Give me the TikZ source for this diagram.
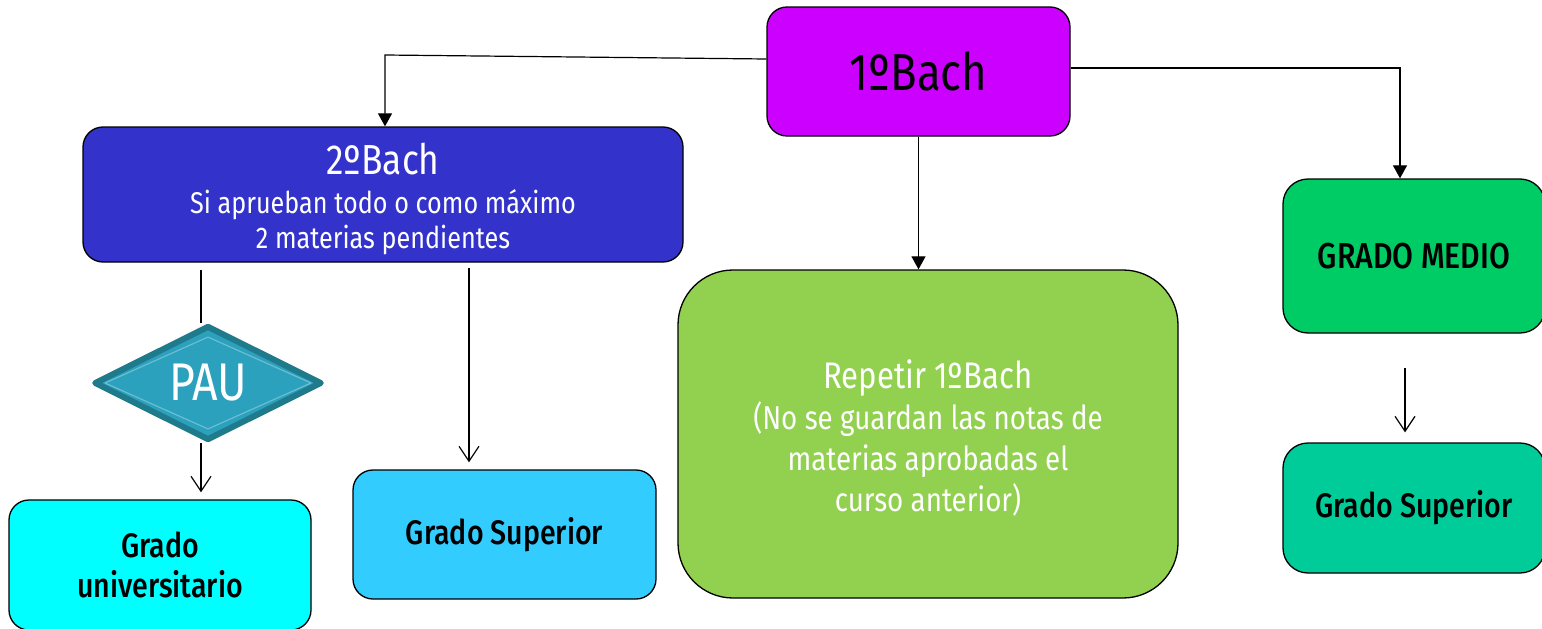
\documentclass[tikz,border=0pt]{standalone}
\usepackage{fontspec}
\setmainfont{Fira Sans}[FakeStretch=0.84, BoldFont={Fira Sans Medium}]
\usetikzlibrary{arrows.meta, shapes.geometric, calc}

\definecolor{bachone}{HTML}{CC00FF}
\definecolor{bachtwo}{HTML}{3333CC}
\definecolor{paufill}{HTML}{2BA1BD}
\definecolor{pauedge}{HTML}{1F7A8C}
\definecolor{unicyan}{HTML}{00FFFF}
\definecolor{supblue}{HTML}{33CCFF}
\definecolor{repgreen}{HTML}{92D050}
\definecolor{medgreen}{HTML}{00CC66}
\definecolor{supgreen}{HTML}{00CC99}

\tikzset{
  box/.style={draw=black, line width=1.3pt, rounded corners=20pt, align=center, inner sep=0pt},
  fwd/.style={line width=1.2pt, -{Triangle[length=13pt,width=14pt]}},
  thin arrow/.style={line width=1.2pt, -{Straight Barb[length=15pt,width=20pt]}},
  dark label/.style={font=\bfseries\fontsize{34}{40}\selectfont},
}

\begin{document}
\begin{tikzpicture}[x=1pt,y=-1pt]
  \useasboundingbox (0,0) rectangle (1542,629);
  \node[box, fill=bachone, minimum width=303pt, minimum height=129pt,
    font=\fontsize{52}{56}\selectfont] (bach1) at (918.5,71.5) {1ºBach};
  \node[box, fill=bachtwo, text=white, minimum width=600pt, minimum height=135pt,
    font=\fontsize{30}{35}\selectfont] (bach2) at (383,194.5)
    {{\fontsize{42}{42}\selectfont\rule{0pt}{40pt}2ºBach}\\[4pt] Si aprueban todo o como máximo\\ 2 materias pendientes};
  \node[diamond, fill=paufill, draw=pauedge, line width=6pt, line join=round, text=white,
    minimum width=228pt, minimum height=106pt, inner sep=0pt,
    font=\fontsize{53}{53}\selectfont] (pau) at (208,383) {PAU};
  \draw[paufill!70!white, line width=1.2pt, line join=round]
    ($(pau.north)!0.12!(pau.south)$) -- ($(pau.east)!0.06!(pau.west)$)
    -- ($(pau.south)!0.12!(pau.north)$) -- ($(pau.west)!0.06!(pau.east)$) -- cycle;
  \node[box, dark label, fill=unicyan, minimum width=302pt, minimum height=130pt] (uni) at (160,565)
    {Grado\\ universitario};
  \node[box, dark label, fill=supblue, minimum width=303pt, minimum height=129pt] (sup1) at (504.5,534.5)
    {Grado Superior};
  \node[box, fill=repgreen, text=white, rounded corners=55pt, minimum width=500pt, minimum height=328pt,
    font=\fontsize{33}{41}\selectfont] (rep) at (928,434)
    {{\fontsize{37}{37}\selectfont\rule{0pt}{37pt}Repetir 1ºBach}\\ (No se guardan las notas de\\ materias aprobadas el\\ curso anterior)};
  \node[box, fill=medgreen, rounded corners=25pt, minimum width=262pt, minimum height=154pt,
    font=\bfseries\fontsize{36}{40}\selectfont] (gmed) at (1414,256) {GRADO MEDIO};
  \node[box, dark label, fill=supgreen, rounded corners=25pt, minimum width=262pt, minimum height=130pt] (sup2) at (1414,508)
    {Grado Superior};

  \coordinate (k1) at (385,55);
  \coordinate (k2) at (1400,68);
  \coordinate (s1) at (201,270);
  \coordinate (s2) at (469,268);
  \coordinate (s3) at (1405,368);

  \draw[fwd] ([yshift=12.5pt]bach1.west) -- (k1) -- (k1 |- bach2.north);
  \draw[fwd] ([yshift=3.5pt]bach1.east) -- (k2) -- (k2 |- gmed.north);
  \draw[fwd] (bach1.south) -- (bach1.south |- rep.north);
  \draw[line width=1.2pt] (s1) -- (s1 |- pau.north);
  \draw[thin arrow, shorten >=7pt] (s1 |- pau.south) -- (s1 |- uni.north);
  \draw[thin arrow, shorten >=7pt] (s2) -- (s2 |- sup1.north);
  \draw[thin arrow, shorten >=10pt] (s3) -- (s3 |- sup2.north);
\end{tikzpicture}
\end{document}
